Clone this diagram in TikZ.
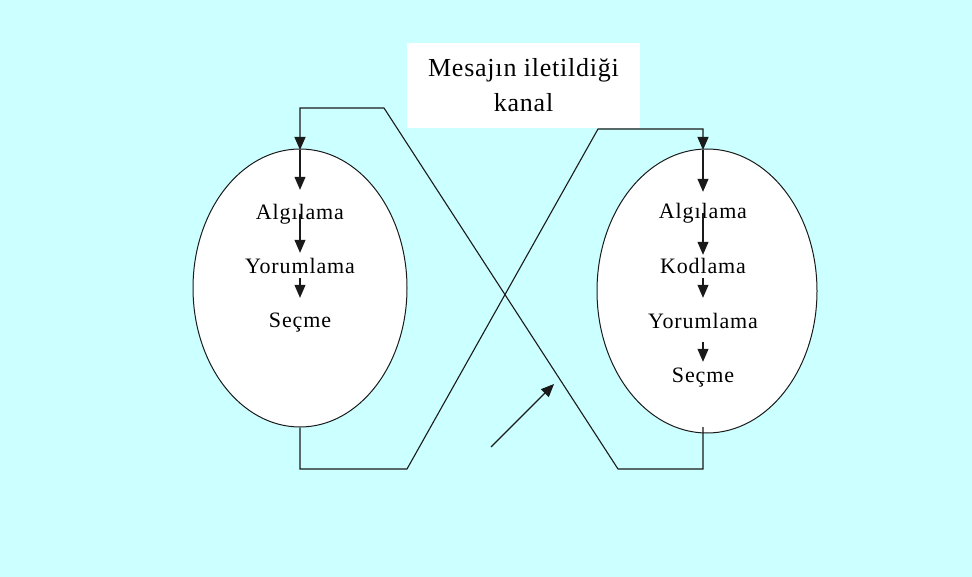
\documentclass[tikz,border=0pt]{standalone}
\usepackage{fontspec}
\setmainfont{Liberation Serif}
\newfontfamily\lblfont[LetterSpace=4]{Liberation Serif}
\newfontfamily\ttlfont[LetterSpace=3]{Liberation Serif}
\usetikzlibrary{arrows.meta,shapes.geometric}
\definecolor{bgcyan}{HTML}{CCFFFF}
\definecolor{ink}{HTML}{1A1A1A}
\begin{document}
\begin{tikzpicture}[x=1pt,y=-1pt,
 line/.style={draw=ink, line width=1.1pt},
 arr/.style={line, -{Triangle[length=13pt,width=11pt]}},
 oval/.style={ellipse, draw=ink, line width=1pt, fill=white, inner sep=0pt},
 lbl/.style={font=\lblfont\fontsize{22}{26}\selectfont, inner sep=0pt, text height=15pt, text depth=4pt, anchor=base},
 titlebox/.style={fill=white, inner sep=0pt, align=center, minimum width=233pt, minimum height=85pt, font=\ttlfont\fontsize{26}{35}\selectfont},
]
\fill[bgcyan] (0,0) rectangle (972,577);
\useasboundingbox (0,0) rectangle (972,577);
% ovals
\node[oval, minimum width=214pt, minimum height=278pt] (e1) at (300,288) {};
\node[oval, minimum width=220pt, minimum height=284pt] (e2) at (707,291) {};
% title
\node[titlebox] (kanal) at (523.5,85.5) {Mesajın iletildiği\\kanal};
% left labels
\node[lbl] (a1) at (300,220) {Algılama};
\node[lbl] (y1) at (300,274) {Yorumlama};
\node[lbl] (s1) at (300,328) {Seçme};
% right labels
\node[lbl] (a2) at (703,219) {Algılama};
\node[lbl] (k2) at (703,274) {Kodlama};
\node[lbl] (y2) at (703,329) {Yorumlama};
\node[lbl] (s2) at (703,382) {Seçme};
% channel corners
\coordinate (lb) at (300,469);
\coordinate (lbr) at (407,469);
\coordinate (rtl) at (598,129);
\coordinate (rt) at (703,129);
\coordinate (rtop) at (703,150);
\coordinate (rs) at (703,427);
\coordinate (rb) at (703,469);
\coordinate (rbl) at (618,469);
\coordinate (ltr) at (384,108);
\coordinate (lt) at (300,108);
\coordinate (ltop) at (300,150);
\coordinate (fa) at (491,447);
\coordinate (fb) at (554,384);
% channel lines
\draw[arr] (e1.south) -- (lb) -- (lbr) -- (rtl) -- (rt) -- (rtop);
\draw[arr] (rs) -- (rb) -- (rbl) -- (ltr) -- (lt) -- (ltop);
% inner arrows left
\draw[arr, shorten >=15pt] (ltop) -- (a1.north);
\draw[arr, shorten >=6pt] (a1.center) -- (y1.north);
\draw[arr, shorten >=15pt] (y1.south) -- (s1.north);
% inner arrows right
\draw[arr, shorten >=12pt] (rtop) -- (a2.north);
\draw[arr, shorten >=4pt] (a2.center) -- (k2.north);
\draw[arr, shorten >=16pt] (k2.south) -- (y2.north);
\draw[arr, shorten <=9pt, shorten >=5pt] (y2.south) -- (s2.north);
% free arrow
\draw[arr] (fa) -- (fb);
\end{tikzpicture}
\end{document}
